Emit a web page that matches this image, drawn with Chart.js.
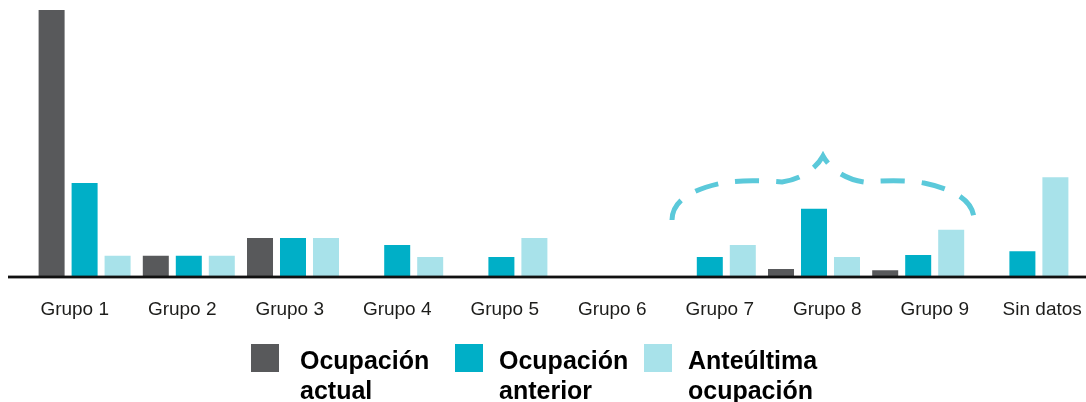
<!DOCTYPE html>
<html>
<head>
<meta charset="utf-8">
<script src="https://cdn.jsdelivr.net/npm/chart.js@4.4.0/dist/chart.umd.min.js"></script>
<style>
html, body { margin: 0; padding: 0; background: #fff; }
#wrap { position: relative; width: 1086px; height: 402px; }
</style>
</head>
<body>
<div id="wrap"><canvas id="myChart"></canvas></div>
<script>
const categories = ['Grupo 1', 'Grupo 2', 'Grupo 3', 'Grupo 4', 'Grupo 5', 'Grupo 6', 'Grupo 7', 'Grupo 8', 'Grupo 9', 'Sin datos'];
const ocupacionActual = [42, 3.2, 6, 0, 0, 0, 0, 1.1, 0.9, 0];
const ocupacionAnterior = [14.7, 3.2, 6, 4.9, 3, 0, 3, 10.6, 3.3, 3.9];
const anteultimaOcupacion = [3.2, 3.2, 6, 3, 6, 0, 4.9, 3, 7.3, 15.6];
const seriesLabels = [['Ocupación', 'actual'], ['Ocupación', 'anterior'], ['Anteúltima', 'ocupación']];

// left half of the brace, from the tip outwards, as bezier segments (dx, dy from tip base)
const braceHalf = [
    [[-6, -109], [-20, -97], [-41, -94]],
    [[-60, -95.5], [-85, -96], [-101, -93]],
    [[-125, -88], [-151, -78], [-151, -56]]
];
const braceTop = -120;

function bezLen(p0, c1, c2, p1) {
    let len = 0, px = p0[0], py = p0[1];
    for (let i = 1; i <= 40; i++) {
        const t = i / 40, u = 1 - t;
        const x = u*u*u*p0[0] + 3*u*u*t*c1[0] + 3*u*t*t*c2[0] + t*t*t*p1[0];
        const y = u*u*u*p0[1] + 3*u*u*t*c1[1] + 3*u*t*t*c2[1] + t*t*t*p1[1];
        len += Math.hypot(x - px, y - py);
        px = x; py = y;
    }
    return len;
}

// axis line, dashed brace over grupos 7-9, and the two-line legend
const extras = {
    id: 'extras',
    afterDraw(chart) {
        const ctx = chart.ctx;
        const xs = chart.scales.x;
        const b = chart.scales.y.bottom;
        ctx.save();

        ctx.fillStyle = '#111';
        ctx.fillRect(8, b - 0.4, chart.width - 8, 2.8);

        const cx = xs.getPixelForValue(7) + 9;
        // half length, so a dash sits centred on the tip
        let half = 0, prev = [0, braceTop];
        braceHalf.forEach(s => { half += bezLen(prev, s[0], s[1], s[2]); prev = s[2]; });
        const period = 41;
        ctx.strokeStyle = '#5bc9da';
        ctx.lineWidth = 5;
        ctx.lineJoin = 'miter';
        ctx.setLineDash([24, 17]);
        ctx.lineDashOffset = ((half - 12) % period + period) % period;
        ctx.beginPath();
        const end = braceHalf[braceHalf.length - 1][2];
        ctx.moveTo(cx + end[0], b + end[1]);
        // left end -> tip (reverse of the half)
        for (let i = braceHalf.length - 1; i >= 0; i--) {
            const s = braceHalf[i];
            const target = i > 0 ? braceHalf[i - 1][2] : [0, braceTop];
            ctx.bezierCurveTo(cx + s[1][0], b + s[1][1], cx + s[0][0], b + s[0][1], cx + target[0], b + target[1]);
        }
        // tip -> right end (mirrored)
        braceHalf.forEach(s => {
            ctx.bezierCurveTo(cx - s[0][0], b + s[0][1], cx - s[1][0], b + s[1][1], cx - s[2][0], b + s[2][1]);
        });
        ctx.stroke();
        ctx.setLineDash([]);

        const boxX = [251, 455, 644];
        const textX = [300, 499, 688];
        ctx.font = 'bold 25px "Liberation Sans", Arial, sans-serif';
        ctx.textBaseline = 'alphabetic';
        chart.data.datasets.forEach((ds, i) => {
            ctx.fillStyle = ds.backgroundColor;
            ctx.fillRect(boxX[i], 344, 28, 28);
            ctx.fillStyle = '#000';
            seriesLabels[i].forEach((line, j) => {
                ctx.fillText(line, textX[i], 369 + j * 30);
            });
        });
        ctx.restore();
    }
};

const ctx = document.getElementById('myChart').getContext('2d');
const myChart = new Chart(ctx, {
    type: 'bar',
    data: {
        labels: categories,
        datasets: [
            { label: seriesLabels[0].join(' '), data: ocupacionActual, backgroundColor: '#58595b' },
            { label: seriesLabels[1].join(' '), data: ocupacionAnterior, backgroundColor: '#00afc7' },
            { label: seriesLabels[2].join(' '), data: anteultimaOcupacion, backgroundColor: '#a8e2ea' }
        ]
    },
    options: {
        responsive: true,
        maintainAspectRatio: false,
        animation: false,
        layout: { padding: { left: 32.5, right: 11.5, top: 10, bottom: 76 } },
        datasets: {
            bar: { categoryPercentage: 0.95, barPercentage: 0.788, borderWidth: 0 }
        },
        plugins: {
            legend: { display: false },
            tooltip: { enabled: false }
        },
        scales: {
            x: { display: false },
            y: { display: false, min: 0, max: 42 },
            xl: {
                type: 'linear',
                position: 'bottom',
                offset: false,
                min: -0.3926,
                max: 9.3004,
                afterFit: scale => {
                    scale.height = 50;
                    scale.paddingLeft = 0;
                    scale.paddingRight = 0;
                },
                grid: { display: false, drawTicks: false, offset: false },
                border: { display: false },
                ticks: {
                    stepSize: 1,
                    includeBounds: false,
                    autoSkip: false,
                    maxRotation: 0,
                    padding: 22,
                    color: '#1d1d1b',
                    font: { family: '"Liberation Sans", Arial, sans-serif', size: 19 },
                    callback: v => (Number.isInteger(v) ? categories[v] : '')
                }
            }
        }
    },
    plugins: [extras]
});
</script>
</body>
</html>
